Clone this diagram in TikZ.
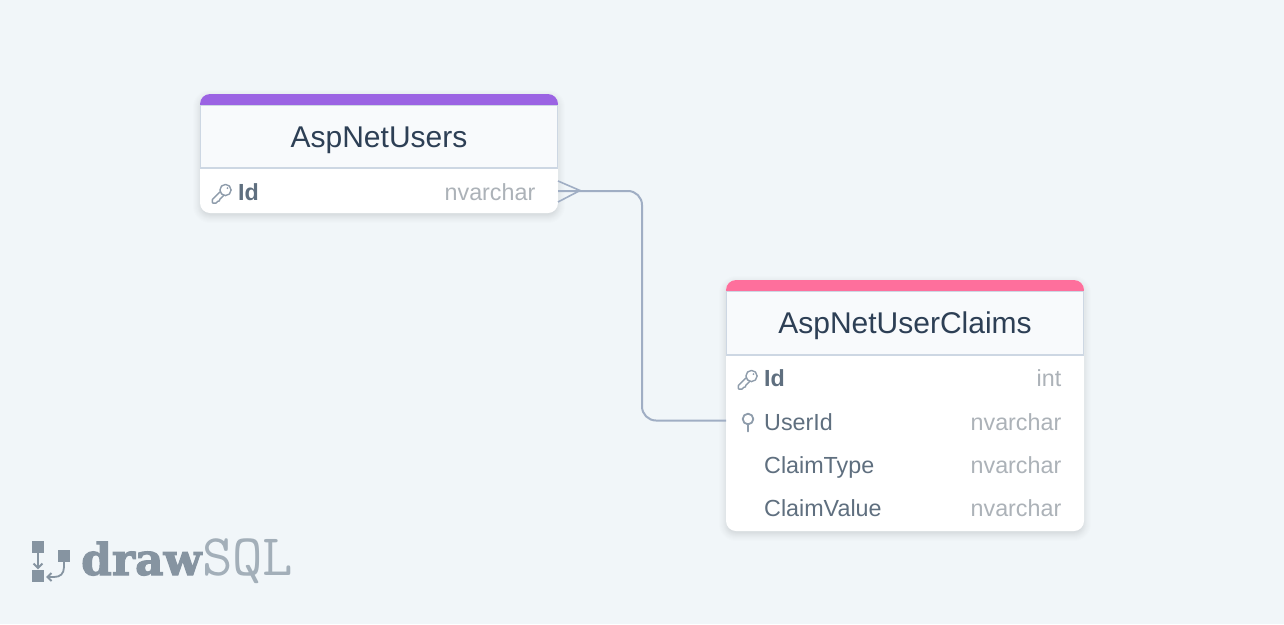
\documentclass[tikz,border=0pt]{standalone}
\usepackage{fontspec}
\setmainfont{Liberation Sans}
\newfontfamily\logobold{DejaVu Serif}[BoldFont={DejaVu Serif Bold},BoldFeatures={FakeBold=2.5}]
\usetikzlibrary{calc}
\definecolor{bgc}{HTML}{F1F6F9}
\definecolor{headc}{HTML}{F8FAFC}
\definecolor{linec}{HTML}{CDD7E3}
\definecolor{connc}{HTML}{A0AEC4}
\definecolor{titlec}{HTML}{2D3F55}
\definecolor{fieldc}{HTML}{5F6F7F}
\definecolor{typec}{HTML}{ACB2B8}
\definecolor{iconc}{HTML}{8E9CAB}
\definecolor{logoc}{HTML}{8694A1}
\definecolor{logolight}{HTML}{A3AFB9}
\definecolor{purplec}{HTML}{9B63E3}
\definecolor{pinkc}{HTML}{FE6F9C}
\tikzset{
  x=1pt,y=-1pt,
  conn/.style={draw=connc,line width=2pt},
  title/.style={font=\fontsize{30}{34}\selectfont,text=titlec,anchor=base,inner sep=0pt},
  field/.style={font=\fontsize{23.3}{26}\selectfont,text=fieldc,anchor=base west,inner sep=0pt},
  keyfield/.style={field,font=\fontsize{23.3}{26}\selectfont\bfseries},
  ftype/.style={font=\fontsize{23.3}{26}\selectfont,text=typec,anchor=base east,inner sep=0pt},
  icon/.style={draw=iconc,line width=1.4pt,line cap=round,line join=round},
  logoshape/.style={fill=logoc,draw=none},
  logoline/.style={draw=logoc,line width=1.8pt,fill=none},
}
\newcommand{\softshadow}[4]{%
  \foreach \s/\o in {7/.006,6/.007,5/.008,4/.009,3/.01,2/.011,1/.012,0/.013,-1/.014}{%
    \fill[black,opacity=\o,rounded corners={10pt+\s*1pt}] ($(#1,#2)+(-\s,-\s+3)$) rectangle ($(#3,#4)+(\s,\s+3)$);
  }%
}
\newcommand{\tablebox}[6]{% x1,y1,x2,y2,colour,headerbottom
  \softshadow{#1}{#2}{#3}{#4}
  \fill[white,rounded corners=10pt] (#1,#2) rectangle (#3,#4);
  \begin{scope}
    \clip[rounded corners=10pt] (#1,#2) rectangle (#3,#4);
    \fill[#5] (#1,#2) rectangle (#3,#2+11);
    \fill[headc] (#1,#2+11) rectangle (#3,#6);
    \draw[linec,line width=1.2pt] (#1+.6,#2+11.6) rectangle (#3-.6,#6);
  \end{scope}
}
\newcommand{\keyicon}[2]{%
  \begin{scope}[shift={(#1,#2)}]
    \draw[icon,fill=white] (1.73,2.31) -- (-2.2,6.3) -- (-2.6,8) -- (-4.3,8.3) -- (-6.0,10.1) -- (-9.0,10.1) -- (-9.6,9.4) -- (-9.6,6.5) -- (-1.81,-1.23);
    \draw[icon,fill=white] (3.5,-3) circle[radius=5.6];
    \fill[iconc] (5.4,-4.9) circle[radius=1];
  \end{scope}
}
\begin{document}
\begin{tikzpicture}
\useasboundingbox (0,0) rectangle (1284,624);
\fill[bgc] (0,0) rectangle (1284,624);

% table AspNetUsers
\tablebox{200}{94}{558}{213}{purplec}{168}
\node[title] (usersTitle) at (379,147) {AspNetUsers};
\keyicon{222}{193}
\node[keyfield] (usersId) at (238,200.5) {Id};
\node[ftype] (usersIdType) at (535.5,200.5) {nvarchar};
\coordinate (usersPort) at (558,191);

% table AspNetUserClaims
\tablebox{726}{280}{1084}{531}{pinkc}{355}
\node[title] (claimsTitle) at (905,333) {AspNetUserClaims};
\keyicon{748}{379}
\node[keyfield] (claimsId) at (764,386.5) {Id};
\node[ftype] (claimsIdType) at (1061.5,386.5) {int};
\draw[icon,line width=1.8pt] (748,424.5) -- (748,431.5);
\draw[icon,line width=1.8pt] (748,419) circle[radius=5.3];
\node[field] (claimsUserId) at (764,430) {UserId};
\node[ftype] (claimsUserIdType) at (1061.5,430) {nvarchar};
\node[field] (claimsType) at (764,473) {ClaimType};
\node[ftype] (claimsTypeType) at (1061.5,473) {nvarchar};
\node[field] (claimsValue) at (764,516) {ClaimValue};
\node[ftype] (claimsValueType) at (1061.5,516) {nvarchar};
\coordinate (claimsPort) at (726,420.5);

% connector
\coordinate (crowApex) at (580,190.5);
\draw[conn,rounded corners=14pt] (usersPort) -- (642,191) -- (642,420.5) -- (claimsPort);
\draw[conn,line width=1.6pt] ($(usersPort)+(0,-10)$) -- (crowApex) -- ($(usersPort)+(0,11)$);

% logo
\node[logoshape,minimum width=12pt,minimum height=12pt,inner sep=0pt] (logoA) at (38,547) {};
\node[logoshape,minimum width=12pt,minimum height=12pt,inner sep=0pt] (logoB) at (38,576) {};
\node[logoshape,minimum width=12pt,minimum height=12pt,inner sep=0pt] (logoC) at (64,556) {};
\draw[logoline] (logoA.south) -- (38,568);
\draw[logoline] (33.5,563.5) -- (38,568) -- (42.5,563.5);
\draw[logoline] (logoC.south) -- (64,567) .. controls (64,574) and (60,577) .. (54,577) -- (47.5,577);
\draw[logoline] (51.5,573) -- (47.5,577) -- (51.5,581);
\node[anchor=base west,inner sep=0pt,text=logoc,font={\logobold\bfseries\fontsize{44}{44}\selectfont}] (logoDraw) at (81,575) {draw};
\node[anchor=base west,inner sep=0pt,text=logolight,font={\ttfamily\fontsize{59}{59}\selectfont}] (logoSQL) at (202,575) {SQL};
\end{tikzpicture}
\end{document}
